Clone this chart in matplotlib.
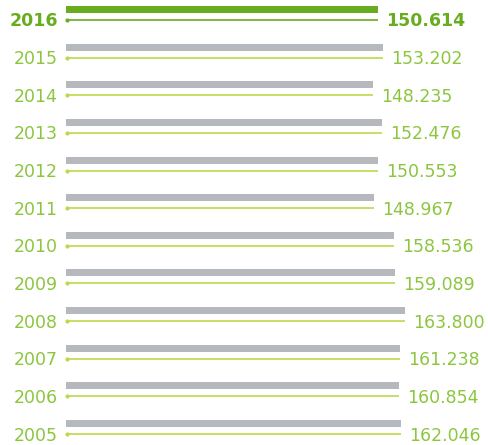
import matplotlib
matplotlib.use('Agg')
import matplotlib.pyplot as plt

years = ['2016', '2015', '2014', '2013', '2012', '2011',
         '2010', '2009', '2008', '2007', '2006', '2005']
values = [150.614, 153.202, 148.235, 152.476, 150.553, 148.967,
          158.536, 159.089, 163.800, 161.238, 160.854, 162.046]
labels = ['150.614', '153.202', '148.235', '152.476', '150.553', '148.967',
          '158.536', '159.089', '163.800', '161.238', '160.854', '162.046']

W, H = 488, 445
PX_PER_UNIT = 2.07     # horizontal pixels per value unit
ROW_PX = 37.64         # vertical spacing between rows
X0 = 66                # left edge of the bars
TOP = 20               # baseline of the first row

HIGHLIGHT = '#67ad1f'
TEXT_GREEN = '#8cc63f'
LINE_GREEN = '#bcd94a'
GREY = '#b5b9bd'

fig = plt.figure(figsize=(W / 100, H / 100), dpi=100)
ax = fig.add_axes([0, 0, 1, 1])
ax.set_xlim(-X0 / PX_PER_UNIT, (W - X0) / PX_PER_UNIT)
ax.set_ylim((H - TOP) / ROW_PX, -TOP / ROW_PX)
ax.axis('off')

bar_off = 10.5 / ROW_PX
bar_h = 7 / ROW_PX
gap = 8 / PX_PER_UNIT
text_dy = 6.5 / ROW_PX   # text baseline sits a little below the rule

for i, (yr, v, lab) in enumerate(zip(years, values, labels)):
    first = i == 0
    bar_c = HIGHLIGHT if first else GREY
    line_c = HIGHLIGHT if first else LINE_GREEN
    txt_c = HIGHLIGHT if first else TEXT_GREEN
    weight = 'bold' if first else 'normal'
    ax.barh(i - bar_off, v, height=bar_h, left=0, color=bar_c, linewidth=0)
    ax.plot([0, v], [i, i], color=line_c, lw=1.2, solid_capstyle='butt')
    ax.plot([1 / PX_PER_UNIT], [i], 'o', color=line_c, ms=3, mec='none')
    ax.text(-8 / PX_PER_UNIT, i + text_dy, yr, ha='right', va='baseline',
            fontsize=12.5, color=txt_c, fontweight=weight, family='DejaVu Sans')
    ax.text(v + gap, i + text_dy, lab, ha='left', va='baseline',
            fontsize=12.5, color=txt_c, fontweight=weight, family='DejaVu Sans')

fig.savefig('out.png', dpi=100)
